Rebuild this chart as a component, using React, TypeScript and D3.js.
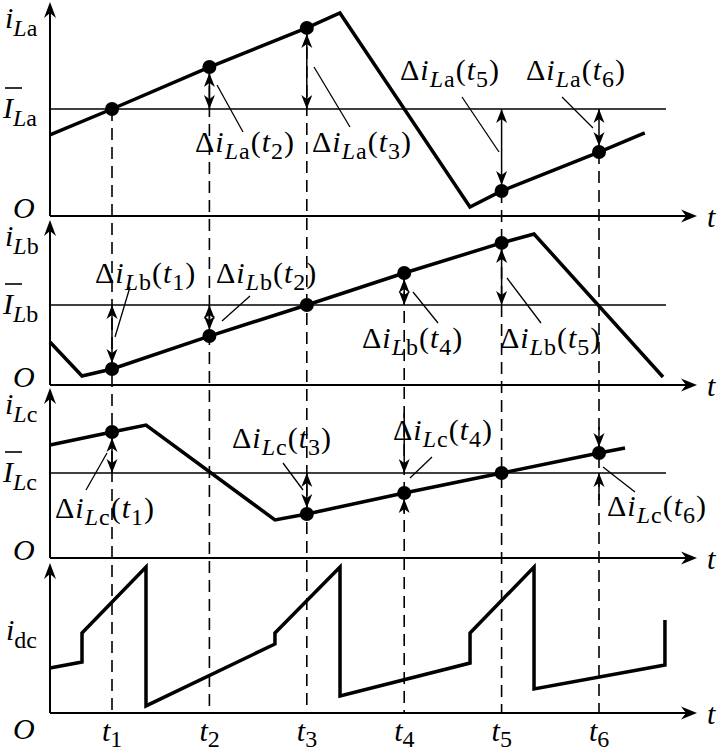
import React from "react";
import * as d3 from "d3";

// ---------------- data ----------------
const T_TICKS = [1, 2, 3, 4, 5, 6];
const MEAN = 5; // mean inductor current (panel units)

const iLa: [number, number][] = [
  [0.363, 3.79], [1, 5], [2, 6.96], [3, 8.79], [3.34, 9.49],
  [4.675, 0.42], [5, 1.17], [6, 2.99], [6.47, 3.88],
];
const iLb: [number, number][] = [
  [0.363, 2.69], [0.692, 0.56], [1, 1.0], [2, 3.06], [3, 5],
  [4, 7.0], [5, 8.88], [5.333, 9.44], [6.657, 0.5],
];
const iLc: [number, number][] = [
  [0.363, 6.65], [1, 7.41], [1.349, 7.82], [2.673, 2.24], [3, 2.59],
  [4, 3.82], [5, 5], [6, 6.18], [6.267, 6.47],
];
const idc: [number, number][] = [
  [0.363, 3.0], [0.692, 3.4], [0.692, 5.33], [1.349, 9.73], [1.349, 0.47],
  [2.673, 4.6], [2.673, 5.33], [3.341, 9.73], [3.341, 1.13],
  [4.676, 3.33], [4.676, 5.33], [5.333, 9.73], [5.333, 1.6],
  [6.677, 3.2], [6.677, 6.2],
];

const dotsLa = [1, 2, 3, 5, 6];
const dotsLb = [1, 2, 3, 4, 5];
const dotsLc = [1, 3, 4, 5, 6];
const deltaLa = [2, 3, 5, 6];
const deltaLb = [1, 2, 4, 5];
const deltaLc = [1, 3, 4, 6];
const outerDeltaLc = [4, 6];

// ---------------- layout ----------------
const FONT = "'Liberation Serif','Times New Roman',Times,serif";
const FS = 30;
const SFS = 24;
const SUBDY = 7;
const AX_L = 50;
const AX_R = 697;
const BAR_R = 666;
const BOTTOM_Y = 713;
const DOT_R = 7;

const x = d3.scaleLinear().domain([1, 6]).range([112, 599]);

type Panel = {
  ph: string; axisY: number; topY: number; meanY: number;
  wave: [number, number][]; dots: number[]; deltas: number[];
};
const PANELS: Panel[] = [
  { ph: "a", axisY: 216, topY: 2, meanY: 109, wave: iLa, dots: dotsLa, deltas: deltaLa },
  { ph: "b", axisY: 385, topY: 220, meanY: 305, wave: iLb, dots: dotsLb, deltas: deltaLb },
  { ph: "c", axisY: 558, topY: 388, meanY: 473, wave: iLc, dots: dotsLc, deltas: deltaLc },
];
const DC = { axisY: 713, topY: 563 };
const yDc = d3.scaleLinear().domain([0, 10]).range([DC.axisY, DC.topY]);

const LABELS: Record<string, { x: number; y: number; l: number[] }> = {
  a2: { x: 195, y: 152, l: [217, 85, 243, 132] },
  a3: { x: 312, y: 152, l: [314, 67, 350, 127] },
  a5: { x: 400, y: 80, l: [462, 97, 499, 152] },
  a6: { x: 526, y: 80, l: [562, 97, 593, 128] },
  b1: { x: 95, y: 283, l: [130, 287, 115, 337] },
  b2: { x: 216, y: 283, l: [250, 296, 222, 321] },
  b4: { x: 362, y: 348, l: [413, 292, 438, 323] },
  b5: { x: 500, y: 348, l: [507, 278, 541, 323] },
  c1: { x: 55, y: 518, l: [107, 453, 86, 490] },
  c3: { x: 232, y: 448, l: [283, 463, 303, 490] },
  c4: { x: 393, y: 440, l: [432, 457, 410, 478] },
  c6: { x: 607, y: 516, l: [603, 467, 635, 492] },
};
const OUTER_TAILS: Record<number, [number, number]> = { 4: [60, 15], 6: [20, 27] };

const valueAt = (w: [number, number][], t: number) => w.find((p) => p[0] === t)![1];
const yScale = (p: Panel) => d3.scaleLinear().domain([0, MEAN]).range([p.axisY, p.meanY]);

function headV(xx: number, tip: number, dir: number, len = 14, hw = 5.5, notch = 4) {
  // dir = -1 points up, +1 points down
  const b = tip - dir * len;
  const n = tip - dir * (len - notch);
  return `M${xx},${tip}L${xx - hw},${b}L${xx},${n}L${xx + hw},${b}Z`;
}
function headH(tip: number, yy: number, len = 16, hw = 6.5, notch = 5) {
  return `M${tip},${yy}L${tip - len},${yy - hw}L${tip - len + notch},${yy}L${tip - len},${yy + hw}Z`;
}

function DeltaLabel({ x0, y0, ph, k }: { x0: number; y0: number; ph: string; k: number }) {
  return (
    <text x={x0} y={y0} fontFamily={FONT} fontSize={FS} letterSpacing={1}>
      <tspan>Δ</tspan>
      <tspan fontStyle="italic">i</tspan>
      <tspan fontSize={SFS} fontStyle="italic" dy={SUBDY}>L</tspan>
      <tspan fontSize={SFS}>{ph}</tspan>
      <tspan dy={-SUBDY}>(</tspan>
      <tspan fontStyle="italic">t</tspan>
      <tspan fontSize={SFS} dy={SUBDY}>{k}</tspan>
      <tspan dy={-SUBDY}>)</tspan>
    </text>
  );
}

function CurLabel({ x0, y0, main, sub1, sub2 }: { x0: number; y0: number; main: string; sub1?: string; sub2: string }) {
  return (
    <text x={x0} y={y0} fontFamily={FONT} fontSize={FS}>
      <tspan fontStyle="italic">{main}</tspan>
      {sub1 ? (
        <tspan fontSize={SFS} fontStyle="italic" dy={SUBDY + 1}>{sub1}</tspan>
      ) : null}
      <tspan fontSize={SFS} dy={sub1 ? 0 : SUBDY + 1}>{sub2}</tspan>
    </text>
  );
}

export default function App() {
  const line = d3.line<[number, number]>();

  // dashed guide start per tick: topmost dot
  const guideStart = T_TICKS.map((k) => {
    for (const p of PANELS) {
      if (p.dots.includes(k)) return yScale(p)(valueAt(p.wave, k));
    }
    return DC.topY;
  });

  return (
    <svg width={721} height={755} style={{ position: "absolute", left: 0, top: 0, background: "#fff" }}>
      <rect x={0} y={0} width={721} height={755} fill="#fff" />
      {/* dashed guides */}
      {T_TICKS.map((k, i) => (
        <line key={"g" + k} x1={x(k)} x2={x(k)} y1={guideStart[i]} y2={BOTTOM_Y}
          stroke="#000" strokeWidth={1.6} strokeDasharray="12,7" />
      ))}

      {PANELS.map((p) => {
        const y = yScale(p);
        const pts = p.wave.map((d) => [x(d[0]), y(d[1])] as [number, number]);
        return (
          <g key={p.ph}>
            {/* axes */}
            <line x1={AX_L} x2={AX_L} y1={p.topY + 6} y2={p.axisY} stroke="#000" strokeWidth={2} />
            <path d={headV(AX_L, p.topY, -1, 16, 6, 5)} fill="#000" />
            <line x1={AX_L} x2={AX_R - 6} y1={p.axisY} y2={p.axisY} stroke="#000" strokeWidth={2} />
            <path d={headH(AX_R, p.axisY)} fill="#000" />
            {/* mean line */}
            <line x1={AX_L} x2={BAR_R} y1={y(MEAN)} y2={y(MEAN)} stroke="#000" strokeWidth={1.5} />
            {/* waveform */}
            <path d={line(pts)!} fill="none" stroke="#000" strokeWidth={3.5} strokeLinejoin="miter" />
            {/* delta arrows */}
            {p.deltas.map((k) => {
              const xx = x(k);
              const dy = y(valueAt(p.wave, k));
              const my = y(MEAN);
              const dotAbove = dy < my;
              const outer = p.ph === "c" && outerDeltaLc.includes(k);
              const lab = LABELS[p.ph + k];
              let shafts: [number, number][] = [];
              let heads: string[] = [];
              if (!outer) {
                const dotTip = dy + (dotAbove ? DOT_R - 1 : -(DOT_R - 1));
                shafts = [[dotTip, my]];
                heads = [headV(xx, dotTip, dotAbove ? -1 : 1), headV(xx, my, dotAbove ? 1 : -1)];
              } else {
                const [tu, td] = OUTER_TAILS[k];
                const upperY = Math.min(dy, my);
                const lowerY = Math.max(dy, my);
                const upperTip = dotAbove ? upperY - (DOT_R - 1) : upperY;
                const lowerTip = dotAbove ? lowerY : lowerY + (DOT_R - 1);
                shafts = [[upperTip - tu, upperTip], [lowerTip, lowerTip + td]];
                heads = [headV(xx, upperTip, 1), headV(xx, lowerTip, -1)];
              }
              return (
                <g key={"d" + k}>
                  {shafts.map((s, i) => (
                    <line key={i} x1={xx} x2={xx} y1={s[0]} y2={s[1]} stroke="#000" strokeWidth={1.5} />
                  ))}
                  {heads.map((h, i) => (
                    <path key={"h" + i} d={h} fill="#000" />
                  ))}
                  <line x1={lab.l[0]} y1={lab.l[1]} x2={lab.l[2]} y2={lab.l[3]} stroke="#000" strokeWidth={1.3} />
                  <DeltaLabel x0={lab.x} y0={lab.y} ph={p.ph} k={k} />
                </g>
              );
            })}
            {/* dots */}
            {p.dots.map((k) => (
              <circle key={"c" + k} cx={x(k)} cy={y(valueAt(p.wave, k))} r={DOT_R} fill="#000" />
            ))}
            {/* labels */}
            <CurLabel x0={5} y0={p.topY + 26} main="i" sub1="L" sub2={p.ph} />
            <CurLabel x0={3} y0={p.meanY + 9} main="I" sub1="L" sub2={p.ph} />
            <line x1={5} x2={22} y1={p.meanY - 21} y2={p.meanY - 21} stroke="#000" strokeWidth={1.6} />
            <text x={13} y={p.axisY + 2} fontFamily={FONT} fontSize={FS} fontStyle="italic">O</text>
            <text x={707} y={p.axisY + 11} fontFamily={FONT} fontSize={FS} fontStyle="italic">t</text>
          </g>
        );
      })}

      {/* idc panel */}
      <g>
        <line x1={AX_L} x2={AX_L} y1={DC.topY + 6} y2={DC.axisY} stroke="#000" strokeWidth={2} />
        <path d={headV(AX_L, DC.topY, -1, 16, 6, 5)} fill="#000" />
        <line x1={AX_L} x2={AX_R - 6} y1={DC.axisY} y2={DC.axisY} stroke="#000" strokeWidth={2} />
        <path d={headH(AX_R, DC.axisY)} fill="#000" />
        <path d={line(idc.map((d) => [x(d[0]), yDc(d[1])] as [number, number]))!} fill="none"
          stroke="#000" strokeWidth={3.5} strokeLinejoin="miter" />
        <CurLabel x0={6} y0={640} main="i" sub2="dc" />
        <text x={13} y={739} fontFamily={FONT} fontSize={FS} fontStyle="italic">O</text>
        <text x={707} y={DC.axisY + 11} fontFamily={FONT} fontSize={FS} fontStyle="italic">t</text>
        {T_TICKS.map((k) => (
          <text key={"t" + k} x={x(k) - 10} y={741} fontFamily={FONT} fontSize={FS}>
            <tspan fontStyle="italic">t</tspan>
            <tspan fontSize={SFS} dy={6}>{k}</tspan>
          </text>
        ))}
      </g>
    </svg>
  );
}
